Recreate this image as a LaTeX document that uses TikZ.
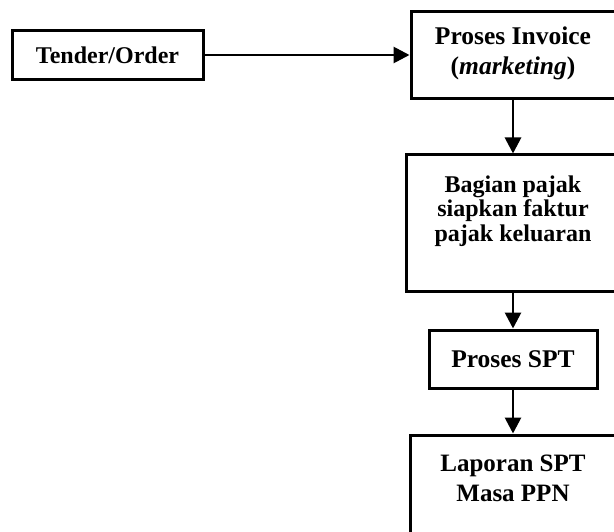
\documentclass[tikz,border=0pt]{standalone}
\usepackage{fontspec}
\setmainfont{Liberation Serif}
\usetikzlibrary{arrows.meta}
\tikzset{
  box/.style={draw=black, line width=3pt, fill=none, inner sep=0pt, align=center},
  lbl/.style={inner sep=0pt, align=center, font=\fontsize{24.5}{24.5}\selectfont\bfseries},
  flow/.style={line width=2.8pt, -{Triangle[length=16pt,width=16pt]}},
}
\begin{document}
\begin{tikzpicture}[x=1pt,y=-1pt]
\useasboundingbox (0,0) rectangle (614,532);
\clip (0,0) rectangle (614,532);
\fill[white] (0,0) rectangle (614,532);
% boxes
\node[box, lbl, font=\fontsize{24}{24}\selectfont\bfseries, minimum width=191pt, minimum height=49pt] (tender) at (107.5,55) {Tender/Order};
\node[box, minimum width=204pt, minimum height=87pt] (invoice) at (513,55) {};
\node[lbl, font=\fontsize{25.5}{30}\selectfont\bfseries] (invoicetxt) at (513,53.5) {Proses Invoice\\(\textit{marketing})};
\node[box, minimum width=214pt, minimum height=137pt] (bagian) at (513,223.5) {};
\node[lbl, font=\fontsize{24}{24.5}\selectfont\bfseries, anchor=north] (bagiantxt) at (513,175.5) {Bagian pajak\\siapkan faktur\\pajak keluaran};
\node[box, lbl, font=\fontsize{25.5}{25.5}\selectfont\bfseries, minimum width=168pt, minimum height=58pt] (spt) at (513,359) {Proses SPT};
\node[box, minimum width=206pt, minimum height=140pt] (laporan) at (513,505) {};
\node[lbl, font=\fontsize{25}{30}\selectfont\bfseries, anchor=north] (laporantxt) at (513,455) {Laporan SPT\\Masa PPN};
% connectors
\draw[flow] (tender.east) -- (invoice.west);
\draw[flow] (invoice.south) -- (bagian.north);
\draw[flow] (bagian.south) -- (spt.north);
\draw[flow] (spt.south) -- (laporan.north);
\end{tikzpicture}
\end{document}
